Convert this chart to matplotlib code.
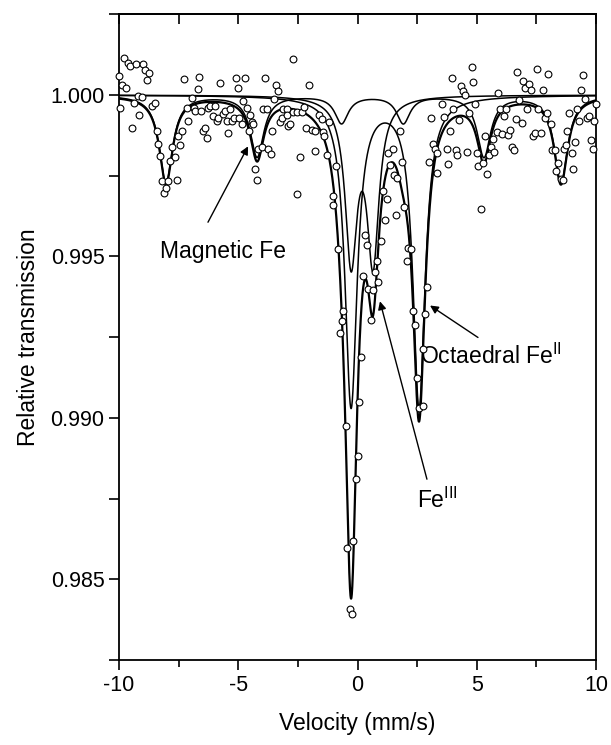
import numpy as np
import matplotlib.pyplot as plt
from matplotlib.ticker import MultipleLocator, FormatStrFormatter

plt.rcParams['font.family'] = ['Liberation Sans', 'DejaVu Sans']
plt.rcParams['mathtext.fontset'] = 'custom'
plt.rcParams['mathtext.rm'] = 'Liberation Sans'
plt.rcParams['axes.unicode_minus'] = False

# measured spectrum (velocity in mm/s, relative transmission)
velocity = [
    -9.99, -9.79, -9.86, -9.71, -9.61, -9.54, -9.30, -8.98, -8.91, -8.73,
    -8.81, -9.96, -9.47, -9.37, -9.15, -9.20, -9.05, -8.60, -8.49, -8.42,
    -8.35, -8.28, -8.18, -8.10, -8.03, -7.93, -7.86, -7.76, -7.65, -7.58,
    -7.44, -7.51, -7.37, -7.27, -7.16, -7.09, -6.95, -6.86, -6.70, -6.65,
    -6.81, -6.56, -6.46, -6.39, -6.32, -6.25, -6.18, -6.07, -5.98, -5.91,
    -5.77, -5.84, -5.65, -5.56, -5.49, -5.42, -5.28, -5.35, -5.18, -5.09,
    -5.00, -4.95, -4.86, -4.79, -4.70, -4.65, -4.51, -4.44, -4.37, -4.54,
    -4.30, -4.23, -4.16, -4.02, -3.95, -3.88, -3.81, -3.74, -3.64, -3.57,
    -3.42, -3.32, -3.49, -3.25, -3.18, -3.11, -2.97, -2.94, -2.90,
    -2.69, -2.02, -2.69, -2.55, -2.34, -2.24, -2.83, -2.16, -1.92, -1.78,
    -1.60, -1.50, -1.43, -1.41, -1.18, -1.78, -1.29, -2.41, -0.90, -2.52,
    -1.01, -1.04, -0.80, -0.59, -0.66, -0.73, -0.48, 0.15, 0.08, 0.01,
    -0.06, -0.18, -0.43, -0.32, -0.25, 0.31, 0.41, 0.22, 0.45, 0.64,
    0.55, 0.80, 0.87, 0.73, 0.99, 1.06, 1.15, 1.22, 1.29, 1.36,
    1.47, 1.54, 1.67, 1.78, 1.85, 1.61, 1.95, 2.13, 2.24, 2.09,
    2.34, 2.41, 2.73, 2.83, 2.90, 2.48, 2.59, 2.73, 3.07, 3.18,
    3.25, 3.00, 3.35, 3.32,
    3.56, 3.63, 3.79, 3.74, 3.88, 3.98, 4.02, 4.13, 4.19, 4.27,
    4.35, 4.44, 4.51, 4.61, 4.69, 4.79, 4.86, 4.93, 5.00, 5.07,
    5.16, 5.25, 5.35, 5.42, 5.53, 5.58, 5.67, 5.72, 5.84, 5.90,
    5.97, 6.04, 6.14, 6.23, 6.30, 6.39, 6.46, 6.56, 6.65, 6.70,
    6.79, 6.88, 6.95, 7.04, 7.12, 7.20, 7.27, 7.34, 7.44, 7.51,
    7.58, 7.68, 7.76, 7.86, 7.93, 8.00, 8.10, 8.14, 8.28, 8.32,
    8.42, 8.52, 8.60, 8.66, 8.74, 8.80, 8.88, 8.98, 9.05, 9.12,
    9.19, 9.30, 9.39, 9.47, 9.54, 9.61, 9.72, 9.78, 9.86, 9.93,
    9.99,
]
transmission = [
    1.00059, 1.00114, 1.00030, 1.00022, 1.00098, 1.00090, 1.00096, 1.00095, 1.00078, 1.00068,
    1.00046, 0.99961, 0.99899, 0.99976, 0.99937, 0.99997, 0.99995, 0.99966, 0.99976, 0.99889,
    0.99847, 0.99811, 0.99734, 0.99695, 0.99713, 0.99734, 0.99796, 0.99840, 0.99809, 0.99736,
    0.99844, 0.99873, 0.99889, 1.00051, 0.99961, 0.99920, 0.99992, 0.99961, 1.00018, 1.00057,
    0.99951, 0.99951, 0.99889, 0.99899, 0.99868, 0.99961, 0.99966, 0.99935, 0.99966, 0.99920,
    1.00036, 0.99930, 0.99940, 0.99951, 0.99920, 0.99883, 0.99920, 0.99956, 0.99930, 1.00052,
    1.00023, 0.99930, 0.99909, 0.99982, 1.00052, 0.99961, 0.99937, 0.99916, 0.99909, 0.99889,
    0.99770, 0.99737, 0.99832, 0.99840, 0.99956, 1.00052, 0.99958, 0.99832, 0.99816, 0.99889,
    1.00030, 1.00012, 0.99987, 0.99916, 0.99930, 0.99956, 0.99956, 0.99937, 0.99904,
    1.00113, 1.00031, 0.99948, 0.99948, 0.99948, 0.99962, 0.99911, 0.99899, 0.99892, 0.99887,
    0.99937, 0.99925, 0.99884, 0.99872, 0.99915, 0.99828, 0.99813, 0.99809, 0.99781, 0.99692,
    0.99687, 0.99660, 0.99524, 0.99330, 0.99301, 0.99263, 0.98975, 0.99189, 0.99048, 0.98883,
    0.98812, 0.98618, 0.98597, 0.98408, 0.98394, 0.99566, 0.99536, 0.99438, 0.99399, 0.99395,
    0.99304, 0.99486, 0.99422, 0.99451, 0.99548, 0.99703, 0.99613, 0.99678, 0.99819, 0.99784,
    0.99833, 0.99751, 0.99742, 0.99887, 0.99792, 0.99627, 0.99654, 0.99527, 0.99524, 0.99487,
    0.99330, 0.99289, 0.99212, 0.99321, 0.99404, 0.99124, 0.99030, 0.99036, 0.99928, 0.99848,
    0.99833, 0.99792, 0.99758, 0.99819,
    0.99973, 0.99932, 0.99787, 0.99834, 0.99889, 1.00054, 0.99956, 0.99830, 0.99814, 0.99922,
    1.00028, 1.00012, 0.99999, 0.99825, 0.99943, 1.00088, 1.00040, 0.99973, 0.99819, 0.99780,
    0.99646, 0.99790, 0.99873, 0.99754, 0.99813, 0.99840, 0.99863, 0.99824, 0.99885, 1.00005,
    0.99958, 0.99878, 0.99935, 0.99958, 0.99875, 0.99892, 0.99840, 0.99829, 0.99927, 1.00071,
    0.99985, 0.99912, 1.00043, 1.00023, 0.99958, 1.00033, 1.00015, 0.99873, 0.99881, 1.00080,
    0.99958, 0.99881, 1.00015, 0.99930, 0.99945, 1.00066, 0.99911, 0.99829, 0.99829, 0.99765,
    0.99788, 0.99739, 0.99737, 0.99832, 0.99844, 0.99889, 0.99943, 0.99819, 0.99772, 0.99854,
    0.99958, 0.99920, 1.00016, 1.00061, 0.99987, 0.99930, 0.99935, 0.99861, 0.99834, 0.99920,
    0.99973,
]

# fitted sub-spectra, Lorentzian lines: centre (mm/s), depth, half width
sextet_pos = [-8.03, -4.21, -0.67, 1.92, 5.30, 8.53]
sextet_depth = [0.0027, 0.0019, 0.00085, 0.00085, 0.0019, 0.0027]
sextet_hw = 0.34
fe2_pos = [-0.27, 2.58]
fe2_depth = [0.0096, 0.0096]
fe2_hw = 0.31
fe3_pos = [-0.27, 0.65]
fe3_depth = [0.0050, 0.0050]
fe3_hw = 0.30


def absorption(v, pos, depth, hw):
    a = np.zeros_like(v)
    for p, d in zip(pos, depth):
        a += d * hw ** 2 / ((v - p) ** 2 + hw ** 2)
    return a


v = np.linspace(-10, 10, 4001)
a_sext = absorption(v, sextet_pos, sextet_depth, sextet_hw)
a_fe2 = absorption(v, fe2_pos, fe2_depth, fe2_hw)
a_fe3 = absorption(v, fe3_pos, fe3_depth, fe3_hw)

fig = plt.figure(figsize=(6.11, 7.45), dpi=100)
ax = fig.add_axes([0.1948, 0.1141, 0.7807, 0.8667])

for a in (a_sext, a_fe2, a_fe3):
    ax.plot(v, 1 - a, color='black', lw=1.1, zorder=2)
ax.plot(v, 1 - a_sext - a_fe2 - a_fe3, color='black', lw=1.6, zorder=3)

ax.plot(velocity, transmission, 'o', mfc='white', mec='black', ms=4.9, mew=0.8,
        zorder=4, clip_on=False)

ax.set_xlim(-10, 10)
ax.set_ylim(0.9825, 1.0025)
ax.xaxis.set_major_locator(MultipleLocator(5))
ax.xaxis.set_minor_locator(MultipleLocator(2.5))
ax.yaxis.set_major_locator(MultipleLocator(0.005))
ax.yaxis.set_minor_locator(MultipleLocator(0.0025))
ax.yaxis.set_major_formatter(FormatStrFormatter('%.3f'))

for s in ax.spines.values():
    s.set_linewidth(1.3)
ax.tick_params(axis='both', which='major', labelsize=15.5, width=1.2, length=7.5, pad=3)
ax.tick_params(axis='x', which='minor', width=1.2, length=5)
ax.tick_params(axis='y', which='minor', width=1.2, length=7.5)

top = ax.secondary_xaxis('top')
top.xaxis.set_major_locator(MultipleLocator(2.5))
top.tick_params(direction='in', length=7.5, width=1.2, labeltop=False)
top.spines['top'].set_linewidth(1.3)

ax.set_xlabel('Velocity (mm/s)', fontsize=16.5, labelpad=12)
ax.set_ylabel('Relative transmission', fontsize=16.5, labelpad=7)

arrow = dict(arrowstyle='-|>', color='black', lw=1.0, mutation_scale=12,
             shrinkA=0, shrinkB=0)
ax.annotate('', xy=(-4.59, 0.99841), xytext=(-6.27, 0.99606), arrowprops=arrow)
ax.text(-8.28, 0.99516, 'Magnetic Fe', fontsize=16.5, va='center', ha='left')

ax.annotate('', xy=(0.94, 0.99361), xytext=(2.91, 0.98810), arrowprops=arrow)
ax.text(2.49, 0.98745, r'Fe$^{\rm III}$', fontsize=16.5, va='center', ha='left')

ax.annotate('', xy=(3.04, 0.99348), xytext=(5.05, 0.99249), arrowprops=arrow)
ax.text(2.62, 0.9919, r'Octaedral Fe$^{\rm II}$', fontsize=16.5, va='center', ha='left')

fig.savefig('out.png', dpi=100)
